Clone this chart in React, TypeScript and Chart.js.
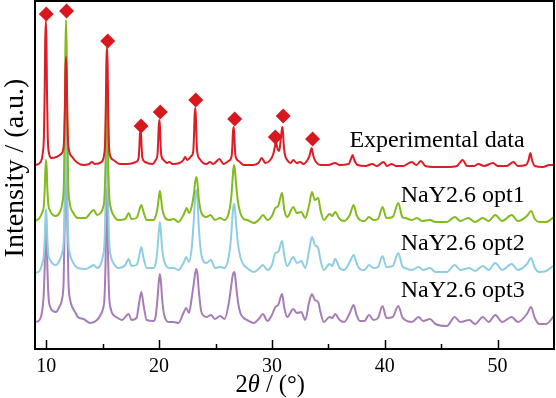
import React, { useEffect, useRef } from "react";
import { Chart, registerables } from "chart.js";

Chart.register(...registerables);

type Pt = [number, number];

// 2θ (deg), intensity (a.u., stacked)
const experimental: Pt[] = [
  [9.0, 184], [9.5, 187], [9.7, 197], [9.79, 212], [9.86, 259], [9.9, 305], [9.96, 328], [10.02, 305],
  [10.06, 259], [10.13, 212], [10.22, 197], [10.45, 191], [10.9, 192], [11.3, 195], [11.49, 199], [11.58, 210],
  [11.65, 243], [11.69, 275], [11.75, 292], [11.81, 275], [11.85, 243], [11.92, 210], [12.01, 199], [12.3, 192],
  [12.8, 186], [13.3, 184], [13.8, 185], [14.05, 187], [14.3, 185], [14.9, 187], [15.12, 194], [15.21, 206],
  [15.28, 245], [15.32, 283], [15.38, 302], [15.44, 283], [15.48, 245], [15.55, 206], [15.64, 194], [15.95, 189],
  [16.5, 185], [17.2, 185], [17.95, 187], [18.18, 191], [18.25, 202], [18.29, 213], [18.35, 219], [18.41, 213],
  [18.45, 202], [18.52, 191], [18.75, 187], [19.4, 185], [19.7, 189], [19.85, 194], [19.92, 208], [19.96, 222],
  [20.02, 229], [20.08, 222], [20.12, 208], [20.19, 194], [20.4, 189], [20.7, 186], [20.9, 187], [21.2, 185],
  [21.8, 186], [22.15, 189], [22.3, 192], [22.5, 189], [22.85, 193], [23.03, 198], [23.1, 216], [23.14, 232],
  [23.2, 241], [23.26, 232], [23.3, 216], [23.37, 198], [23.6, 190], [23.9, 186], [24.2, 185], [24.5, 187],
  [24.8, 185], [25.35, 190], [25.7, 185], [26.15, 188], [26.43, 193], [26.5, 205], [26.54, 216], [26.6, 222],
  [26.66, 216], [26.7, 205], [26.77, 193], [27.05, 188], [27.5, 184], [28.3, 184], [28.8, 186], [29.1, 191],
  [29.4, 186], [29.85, 189], [30.12, 195], [30.22, 200], [30.29, 204], [30.35, 209], [30.41, 205], [30.5, 200],
  [30.62, 198], [30.72, 203], [30.8, 212], [30.86, 218], [30.92, 222], [30.98, 217], [31.03, 207], [31.12, 196],
  [31.35, 189], [31.65, 186], [31.9, 189], [32.2, 186], [32.5, 187], [32.8, 185], [33.15, 189], [33.35, 194],
  [33.43, 198], [33.52, 201], [33.6, 197], [33.7, 192], [33.9, 187], [34.3, 184], [35.0, 184], [35.6, 186],
  [36.0, 184], [36.8, 185], [37.0, 190], [37.15, 194], [37.3, 189], [37.6, 184], [38.3, 183], [38.9, 185],
  [39.3, 183], [39.9, 187], [40.2, 183], [40.6, 185], [41.0, 183], [41.6, 183], [42.4, 187], [42.8, 184],
  [43.2, 188], [43.6, 183], [44.5, 182], [45.5, 182], [46.4, 183], [46.9, 189], [47.3, 183], [47.9, 183],
  [48.3, 185], [48.8, 183], [49.6, 186], [50.0, 183], [50.8, 183], [51.4, 187], [51.8, 183], [52.5, 184],
  [52.75, 189], [52.9, 196], [53.05, 189], [53.3, 183], [54.0, 182], [54.6, 184], [55.0, 184],
];

const opt1: Pt[] = [
  [9.0, 128], [9.4, 131], [9.65, 137], [9.78, 143], [9.87, 162], [9.92, 180], [9.98, 189], [10.04, 180],
  [10.09, 162], [10.18, 145], [10.35, 138], [10.6, 134], [10.85, 133], [11.2, 137], [11.42, 146], [11.56, 167],
  [11.65, 233], [11.69, 296], [11.75, 329], [11.81, 296], [11.85, 233], [11.94, 167], [12.08, 146], [12.35, 137],
  [12.8, 131], [13.5, 131], [13.9, 136], [14.2, 139], [14.5, 134], [14.8, 136], [15.02, 141], [15.17, 155],
  [15.27, 198], [15.31, 240], [15.37, 261], [15.43, 240], [15.47, 198], [15.57, 155], [15.72, 141], [15.95, 134],
  [16.4, 129], [17.0, 130], [17.3, 136], [17.55, 130], [18.0, 131], [18.2, 137], [18.42, 144], [18.62, 137],
  [18.9, 129], [19.5, 129], [19.7, 133], [19.87, 142], [19.97, 151], [20.07, 158], [20.17, 151], [20.27, 141],
  [20.45, 133], [20.9, 129], [21.3, 130], [21.7, 127], [22.2, 135], [22.45, 141], [22.65, 136], [22.9, 143],
  [23.08, 155], [23.2, 167], [23.3, 172], [23.4, 166], [23.52, 150], [23.75, 136], [24.2, 132], [24.55, 134],
  [24.95, 129], [25.4, 131], [25.8, 129], [26.15, 135], [26.38, 150], [26.5, 168], [26.58, 180], [26.65, 184],
  [26.72, 179], [26.82, 165], [26.98, 148], [27.2, 136], [27.5, 130], [27.8, 129], [28.4, 126], [28.9, 130],
  [29.2, 134], [29.6, 129], [30.0, 133], [30.3, 141], [30.55, 143], [30.9, 156], [31.1, 139], [31.35, 132],
  [31.9, 142], [32.2, 136], [32.6, 137], [32.95, 131], [33.3, 144], [33.55, 157], [33.8, 149], [34.1, 151],
  [34.3, 139], [34.6, 129], [35.1, 135], [35.35, 133], [35.6, 137], [36.0, 130], [36.4, 128], [36.9, 134],
  [37.24, 144], [37.5, 134], [37.8, 129], [38.2, 128], [38.6, 132], [39.0, 129], [39.4, 130], [39.8, 142],
  [40.15, 131], [40.7, 132], [41.2, 146], [41.55, 132], [41.8, 131], [42.4, 129], [42.85, 131], [43.3, 128],
  [44.0, 129], [44.5, 127], [45.5, 127], [46.2, 132], [46.7, 128], [47.4, 131], [48.0, 127], [48.7, 131],
  [49.2, 128], [49.8, 134], [50.4, 128], [51.25, 134], [51.8, 128], [52.6, 133], [52.97, 138], [53.3, 130],
  [53.7, 127], [54.3, 127], [55.0, 132],
];

const opt2: Pt[] = [
  [9.0, 76], [9.4, 78], [9.65, 86], [9.78, 93], [9.87, 112], [9.92, 130], [9.98, 140], [10.04, 130],
  [10.09, 112], [10.18, 95], [10.35, 89], [10.6, 85], [10.85, 84], [11.15, 88], [11.4, 96], [11.56, 113],
  [11.65, 167], [11.69, 219], [11.75, 246], [11.81, 219], [11.85, 167], [11.94, 113], [12.08, 96], [12.35, 87],
  [12.8, 81], [13.5, 80], [13.9, 82], [14.2, 84], [14.5, 81], [14.8, 84], [15.02, 93], [15.17, 109],
  [15.27, 161], [15.31, 211], [15.37, 237], [15.43, 211], [15.47, 161], [15.57, 109], [15.72, 93], [15.95, 86],
  [16.4, 81], [17.0, 84], [17.3, 90], [17.55, 83], [18.0, 84], [18.2, 91], [18.42, 102], [18.62, 91],
  [18.9, 81], [19.5, 81], [19.7, 86], [19.87, 102], [19.97, 117], [20.07, 127], [20.17, 116], [20.27, 100],
  [20.45, 88], [20.9, 81], [21.3, 81], [21.7, 79], [22.2, 87], [22.4, 92], [22.65, 87], [22.9, 102],
  [23.08, 130], [23.2, 152], [23.3, 159], [23.4, 150], [23.52, 122], [23.75, 94], [24.2, 86], [24.6, 89],
  [24.95, 81], [25.4, 82], [25.8, 81], [26.15, 91], [26.38, 112], [26.5, 132], [26.58, 142], [26.65, 145],
  [26.72, 141], [26.82, 126], [26.98, 106], [27.2, 92], [27.5, 84], [27.8, 81], [28.4, 77], [28.9, 81],
  [29.2, 84], [29.6, 79], [30.0, 84], [30.3, 96], [30.55, 97], [30.9, 108], [31.1, 93], [31.35, 83],
  [31.9, 92], [32.2, 86], [32.6, 88], [32.95, 81], [33.3, 99], [33.55, 112], [33.8, 104], [34.1, 101],
  [34.3, 89], [34.6, 79], [35.1, 85], [35.35, 83], [35.6, 90], [36.0, 81], [36.4, 79], [36.9, 87],
  [37.24, 94], [37.5, 86], [37.8, 80], [38.2, 79], [38.6, 84], [39.0, 81], [39.4, 82], [39.8, 93],
  [40.15, 82], [40.7, 83], [41.2, 96], [41.55, 83], [41.8, 81], [42.4, 79], [43.0, 82], [43.4, 79],
  [44.0, 81], [44.5, 77], [45.5, 77], [46.2, 84], [46.7, 79], [47.5, 81], [48.0, 78], [48.7, 83],
  [49.2, 79], [49.8, 86], [50.4, 79], [51.25, 85], [51.8, 79], [52.6, 85], [52.97, 91], [53.3, 81],
  [53.7, 77], [54.3, 78], [55.0, 84],
];

const opt3: Pt[] = [
  [9.0, 27], [9.4, 29], [9.62, 37], [9.76, 52], [9.86, 81], [9.92, 109], [9.98, 123], [10.04, 109],
  [10.1, 81], [10.2, 52], [10.35, 42], [10.6, 38], [10.85, 37], [11.15, 42], [11.38, 49], [11.54, 69],
  [11.64, 130], [11.69, 189], [11.75, 219], [11.81, 189], [11.86, 130], [11.96, 69], [12.12, 49], [12.35, 41],
  [12.6, 36], [12.8, 32], [13.3, 30], [13.9, 26], [14.5, 29], [14.8, 34], [15.02, 40], [15.17, 54],
  [15.27, 98], [15.31, 139], [15.37, 161], [15.43, 139], [15.47, 98], [15.57, 54], [15.72, 40], [15.95, 34],
  [16.2, 32], [16.7, 29], [17.3, 35], [17.55, 29], [18.0, 31], [18.2, 44], [18.42, 57], [18.62, 44],
  [18.9, 29], [19.5, 28], [19.7, 33], [19.87, 52], [19.97, 67], [20.07, 75], [20.17, 66], [20.27, 50],
  [20.45, 34], [20.9, 27], [21.3, 27], [21.7, 26], [22.2, 37], [22.4, 41], [22.65, 36], [22.9, 52],
  [23.08, 66], [23.2, 76], [23.3, 80], [23.4, 75], [23.52, 58], [23.75, 37], [24.2, 32], [24.6, 34],
  [24.95, 30], [25.4, 33], [25.8, 30], [26.15, 44], [26.38, 62], [26.5, 72], [26.58, 76], [26.65, 77],
  [26.72, 75], [26.82, 64], [26.98, 48], [27.2, 36], [27.5, 31], [27.8, 29], [28.4, 26], [28.9, 31],
  [29.2, 35], [29.6, 28], [30.0, 34], [30.3, 42], [30.55, 44], [30.9, 55], [31.1, 41], [31.35, 32],
  [31.9, 40], [32.2, 36], [32.6, 37], [32.95, 29], [33.3, 47], [33.55, 55], [33.8, 49], [34.1, 47],
  [34.3, 37], [34.6, 27], [35.1, 32], [35.35, 31], [35.6, 35], [36.0, 29], [36.4, 27], [36.9, 36],
  [37.24, 44], [37.5, 34], [37.8, 28], [38.2, 28], [38.6, 34], [39.0, 29], [39.4, 31], [39.8, 43],
  [40.15, 31], [40.7, 32], [41.2, 43], [41.55, 32], [41.8, 29], [42.4, 27], [43.0, 32], [43.4, 28],
  [44.0, 30], [44.5, 25], [45.5, 23], [46.2, 32], [46.7, 27], [47.5, 29], [48.0, 25], [48.7, 32],
  [49.2, 27], [49.8, 34], [50.4, 27], [51.25, 32], [51.8, 27], [52.6, 35], [52.97, 42], [53.3, 31],
  [53.7, 25], [54.3, 25], [55.0, 33],
];

// diamond markers over the experimental FAU reflections
const markerPeaks: Pt[] = [
  [10.0, 335], [11.8, 338], [15.45, 308], [18.4, 223], [20.1, 237],
  [23.25, 249], [26.7, 230], [30.3, 212], [31.0, 233], [33.6, 210],
];

const seriesNames = ["Experimental data", "NaY2.6 opt1", "NaY2.6 opt2", "NaY2.6 opt3"];
const xTickValues = [10, 15, 20, 25, 30, 35, 40, 45, 50];
const xMin = 9;
const xMax = 55;
const yMin = 0;
const yMax = 348;

// layout (not data)
const LABEL_X = 52.4;
const LABEL_Y = [202, 147, 99, 52];
const COLORS = ["#dd1c24", "#82bb1e", "#8fcde2", "#a67db5"];
const MARKER_COLOR = "#d7191f";
const SERIF = '"Liberation Serif", "Times New Roman", serif';

const toXY = (arr: Pt[]) => arr.map(([x, y]) => ({ x, y }));

const decorPlugin = {
  id: "decor",
  afterDatasetsDraw(chart: any) {
    const { ctx, chartArea: a, scales } = chart;
    const x = scales.x;
    const y = scales.y;
    ctx.save();
    // frame
    ctx.strokeStyle = "#000";
    ctx.lineWidth = 2;
    ctx.strokeRect(a.left, a.top, a.right - a.left, a.bottom - a.top);
    // inward ticks
    ctx.lineWidth = 1.5;
    x.ticks.forEach((t: any) => {
      const px = Math.round(x.getPixelForValue(t.value)) + 0.5;
      const len = t.value % 10 === 0 ? 9 : 5;
      ctx.beginPath();
      ctx.moveTo(px, a.bottom);
      ctx.lineTo(px, a.bottom - len);
      ctx.stroke();
    });
    // series labels
    ctx.fillStyle = "#000";
    ctx.font = `24px ${SERIF}`;
    ctx.textAlign = "right";
    ctx.textBaseline = "alphabetic";
    seriesNames.forEach((n, i) => {
      ctx.fillText(n, x.getPixelForValue(LABEL_X), y.getPixelForValue(LABEL_Y[i]));
    });
    // y title
    ctx.save();
    ctx.translate(16, 168);
    ctx.rotate(-Math.PI / 2);
    ctx.textAlign = "center";
    ctx.textBaseline = "middle";
    ctx.font = `28px ${SERIF}`;
    ctx.fillText("Intensity / (a.u.)", 0, 0);
    ctx.restore();
    // x title with italic theta
    const parts: [string, string][] = [
      ["2", `24.5px ${SERIF}`],
      ["θ", `italic 24.5px ${SERIF}`],
      [" / (°)", `24.5px ${SERIF}`],
    ];
    let total = 0;
    parts.forEach(([s, f]) => {
      ctx.font = f;
      total += ctx.measureText(s).width;
    });
    let cx = x.getPixelForValue(29.85) - total / 2;
    ctx.textAlign = "left";
    ctx.textBaseline = "alphabetic";
    parts.forEach(([s, f]) => {
      ctx.font = f;
      ctx.fillText(s, cx, 392);
      cx += ctx.measureText(s).width;
    });
    ctx.restore();
  },
};

export default function App() {
  const ref = useRef<HTMLCanvasElement | null>(null);
  useEffect(() => {
    document.body.style.margin = "0";
    const canvas = ref.current;
    if (!canvas) return;
    const lineDs = (label: string, data: Pt[], color: string) => ({
      label,
      data: toXY(data),
      showLine: true,
      borderColor: color,
      backgroundColor: color,
      borderWidth: 2,
      pointRadius: 0,
      cubicInterpolationMode: "monotone" as const,
      fill: false,
    });
    const chart = new Chart(canvas, {
      type: "scatter",
      data: {
        datasets: [
          {
            label: "FAU peaks",
            data: toXY(markerPeaks),
            showLine: false,
            pointStyle: "rectRot",
            pointRadius: 7.5,
            backgroundColor: MARKER_COLOR,
            borderColor: MARKER_COLOR,
            borderWidth: 0,
          },
          lineDs(seriesNames[0], experimental, COLORS[0]),
          lineDs(seriesNames[1], opt1, COLORS[1]),
          lineDs(seriesNames[2], opt2, COLORS[2]),
          lineDs(seriesNames[3], opt3, COLORS[3]),
        ] as any,
      },
      options: {
        animation: false,
        responsive: false,
        devicePixelRatio: 1,
        layout: { autoPadding: false, padding: { top: 1, right: 2, left: 0, bottom: 0 } },
        plugins: { legend: { display: false }, tooltip: { enabled: false } },
        scales: {
          x: {
            type: "linear",
            min: xMin,
            max: xMax,
            grid: { display: false, drawTicks: false },
            border: { display: false },
            afterBuildTicks: (scale: any) => {
              scale.ticks = xTickValues.map((v) => ({ value: v }));
            },
            afterFit: (scale: any) => {
              scale.height = 49;
              scale.paddingLeft = 0;
              scale.paddingRight = 0;
            },
            ticks: {
              autoSkip: false,
              maxRotation: 0,
              padding: 6,
              color: "#000",
              font: { family: SERIF, size: 20 },
              callback: (v: any) => (Number(v) % 10 === 0 ? String(v) : ""),
            },
          },
          y: {
            type: "linear",
            min: yMin,
            max: yMax,
            grid: { display: false, drawTicks: false },
            border: { display: false },
            ticks: { display: false },
            afterFit: (scale: any) => {
              scale.width = 35;
            },
          },
        },
      },
      plugins: [decorPlugin],
    } as any);
    return () => chart.destroy();
  }, []);
  return (
    <div style={{ width: 556, height: 398, position: "relative", background: "#fff" }}>
      <canvas ref={ref} width={556} height={398} />
    </div>
  );
}
